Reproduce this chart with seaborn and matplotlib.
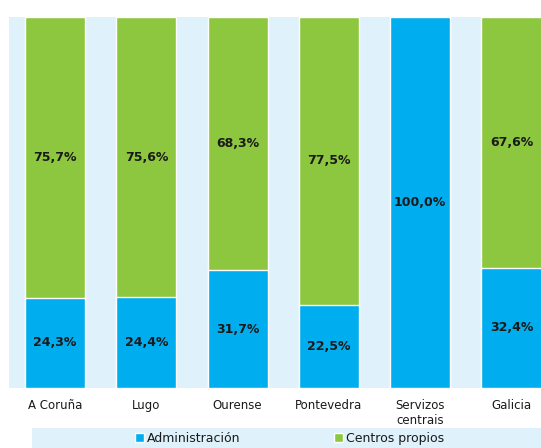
import pandas as pd
import matplotlib.pyplot as plt
import seaborn as sns
from matplotlib.patches import Rectangle, Patch

categories = ['A Coruña', 'Lugo', 'Ourense', 'Pontevedra', 'Servizos\ncentrais', 'Galicia']
administracion = [24.3, 24.4, 31.7, 22.5, 100.0, 32.4]
centros_propios = [75.7, 75.6, 68.3, 77.5, 0.0, 67.6]

blue = '#00aeef'
green = '#8dc63f'
bg = '#dff1fb'
text_col = '#1a1a1a'

df = pd.DataFrame({'cat': categories, 'adm': administracion, 'cen': centros_propios})
df['total'] = df['adm'] + df['cen']

sns.set_style('white')
plt.rcParams['font.family'] = ['DejaVu Sans']

fig = plt.figure(figsize=(5.41, 4.48), dpi=100)
ax = fig.add_axes([9 / 541, 60 / 448, 533 / 541, 371 / 448])
ax.set_facecolor(bg)

sns.barplot(data=df, x='cat', y='total', color=green, width=0.66, saturation=1, ax=ax)
sns.barplot(data=df, x='cat', y='adm', color=blue, width=0.66, saturation=1, ax=ax)

for i, row in df.iterrows():
    if row['adm'] > 0:
        ax.text(i, row['adm'] / 2, f"{row['adm']:.1f}%".replace('.', ','), ha='center', va='center',
                fontsize=9, fontweight='semibold', color=text_col)
    if row['cen'] > 0:
        ax.text(i, row['adm'] + row['cen'] / 2, f"{row['cen']:.1f}%".replace('.', ','), ha='center',
                va='center', fontsize=9, fontweight='semibold', color=text_col)

ax.set_ylim(0, 100)
ax.set_xlim(-0.505, 5.335)
ax.set_yticks([])
ax.set_xlabel('')
ax.set_ylabel('')
ax.tick_params(axis='x', length=0, pad=8, labelsize=8.5, labelcolor=text_col)
for s in ax.spines.values():
    s.set_visible(False)

# legend strip
fig.patches.append(Rectangle((32 / 541, 0), 1 - 32 / 541, 20 / 448, transform=fig.transFigure,
                             facecolor=bg, edgecolor='none', zorder=0))
handles = [Patch(facecolor=blue, label='Administración'), Patch(facecolor=green, label='Centros propios')]
fig.legend(handles=handles, loc='center', bbox_to_anchor=(0.535, 10 / 448), ncol=2, frameon=False,
           fontsize=9, handlelength=0.7, handleheight=0.7, handletextpad=0.25, columnspacing=7.5,
           labelcolor=text_col)

plt.savefig('out.png', dpi=100)
